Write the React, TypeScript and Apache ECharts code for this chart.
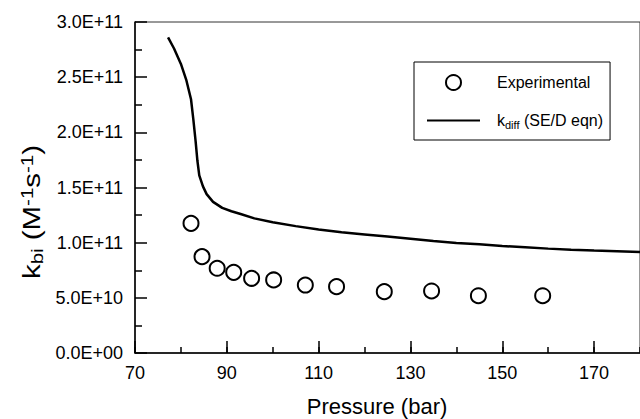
import React, { useEffect, useRef } from "react";
import * as echarts from "echarts";

// Experimental points
const expPressure = [82.2, 84.6, 87.9, 91.5, 95.4, 100.2, 107.1, 113.9, 124.3, 134.6, 144.8, 158.8];
const expK = [1.175e11, 0.873e11, 0.768e11, 0.731e11, 0.677e11, 0.662e11, 0.616e11, 0.601e11, 0.556e11, 0.562e11, 0.519e11, 0.519e11];

// k_diff (SE/D eqn) curve
const diffPressure = [77.2, 78.5, 80.0, 81.2, 82.2, 82.7, 83.2, 83.6, 84.0, 84.8, 85.6, 87.0, 89.0, 91.0, 93.0, 96.0, 100, 105, 110, 115, 120, 125, 130, 135, 140, 145, 150, 155, 160, 165, 170, 175, 180];
const diffK = [2.86e11, 2.76e11, 2.62e11, 2.47e11, 2.30e11, 2.12e11, 1.92e11, 1.74e11, 1.61e11, 1.51e11, 1.44e11, 1.37e11, 1.315e11, 1.285e11, 1.26e11, 1.22e11, 1.185e11, 1.15e11, 1.12e11, 1.095e11, 1.075e11, 1.055e11, 1.035e11, 1.015e11, 0.998e11, 0.985e11, 0.97e11, 0.958e11, 0.946e11, 0.936e11, 0.928e11, 0.922e11, 0.916e11];

const xMin = 70;
const xMax = 180;
const xMajor = 20;
const xMinor = 10;
const yMin = 0;
const yMax = 3e11;
const yStep = 0.5e11;

const FONT = "'Liberation Sans', Arial, Helvetica, sans-serif";

function fmtSci(v: number): string {
  if (v === 0) return "0.0E+00";
  const e = Math.floor(Math.log10(v) + 1e-9);
  const m = v / Math.pow(10, e);
  return m.toFixed(1) + "E+" + String(e).padStart(2, "0");
}

export default function App() {
  const ref = useRef<HTMLDivElement>(null);
  useEffect(() => {
    if (!ref.current) return;
    const chart = echarts.init(ref.current, null, { renderer: "svg" });
    const expData = expPressure.map((p, i) => [p, expK[i]]);
    const diffData = diffPressure.map((p, i) => [p, diffK[i]]);
    chart.setOption({
      animation: false,
      backgroundColor: "#fff",
      grid: {
        left: 135,
        top: 22,
        width: 507,
        height: 331,
        show: true,
        borderColor: "#333",
        borderWidth: 1,
        backgroundColor: "transparent",
      },
      xAxis: [
        {
          type: "value",
          position: "bottom",
          min: xMin,
          max: xMax,
          interval: xMajor,
          axisLine: { show: true, lineStyle: { color: "#000", width: 1.5 } },
          axisTick: { show: true, inside: true, length: 12, lineStyle: { color: "#000", width: 1.5 } },
          axisLabel: {
            showMaxLabel: false,
            color: "#000",
            fontSize: 18,
            fontFamily: FONT,
            margin: 11,
          },
          splitLine: { show: false },
        },
        {
          type: "value",
          position: "bottom",
          min: xMin,
          max: xMax,
          interval: xMinor,
          axisLine: { show: false },
          axisTick: { show: true, inside: true, length: 6, lineStyle: { color: "#000", width: 1.5 } },
          axisLabel: { show: false },
          splitLine: { show: false },
        },
      ],
      yAxis: {
        type: "value",
        min: yMin,
        max: yMax,
        interval: yStep,
        axisLine: { show: true, lineStyle: { color: "#000", width: 1.5 } },
        axisTick: { show: true, inside: true, length: 12, lineStyle: { color: "#000", width: 1.5 } },
        minorTick: { show: true, splitNumber: 2, length: 7, lineStyle: { color: "#000", width: 1.5 } },
        axisLabel: {
          color: "#000",
          fontSize: 18,
          fontFamily: FONT,
          margin: 12,
          formatter: (v: number) => fmtSci(v),
        },
        splitLine: { show: false },
      },
      legend: {
        orient: "vertical",
        left: 414,
        top: 62,
        padding: [12, 7, 10, 13],
        itemWidth: 53,
        itemHeight: 15,
        itemGap: 20,
        borderColor: "#000",
        borderWidth: 1,
        backgroundColor: "#fff",
        data: [
          { name: "Experimental" },
          {
            name: "kdiff",
            icon: "path://M0,0L53,0L53,2L0,2Z",
            itemStyle: { color: "#000", borderWidth: 0 },
          },
        ],
        formatter: (name: string) =>
          name === "kdiff"
            ? "{first|k}{sub|diff}{a| (SE/D eqn)}"
            : "{first|Experimental}",
        textStyle: {
          color: "#000",
          fontFamily: FONT,
          fontSize: 16,
          rich: {
            first: { fontSize: 16, fontFamily: FONT, color: "#000", lineHeight: 20, padding: [0, 0, 0, 12] },
            a: { fontSize: 16, fontFamily: FONT, color: "#000", lineHeight: 20 },
            sub: { fontSize: 11, fontFamily: FONT, color: "#000", lineHeight: 11, padding: [8, 0, 0, 0] },
          },
        },
      },
      series: [
        {
          name: "Experimental",
          type: "scatter",
          data: expData,
          symbol: "emptyCircle",
          symbolSize: 15,
          itemStyle: { color: "#000", borderColor: "#000", borderWidth: 1.5, opacity: 1 },
          z: 3,
        },
        {
          name: "kdiff",
          type: "line",
          data: diffData,
          symbol: "none",
          smooth: false,
          lineStyle: { color: "#000", width: 2.5 },
          itemStyle: { color: "#000" },
          z: 2,
        },
      ],
      graphic: [
        {
          type: "text",
          x: 377,
          y: 406,
          style: {
            text: "Pressure (bar)",
            fontSize: 22,
            fontFamily: FONT,
            fill: "#000",
            align: "center",
            verticalAlign: "middle",
          },
        },
        {
          type: "text",
          x: 32,
          y: 212,
          rotation: Math.PI / 2,
          scaleX: 1.28,
          style: {
            text: "{m|k}{sub|bi}{m| (M}{sup|-1}{m|s}{sup|-1}{m|)}",
            fontSize: 23,
            fontFamily: FONT,
            fill: "#000",
            align: "center",
            verticalAlign: "middle",
            rich: {
              m: { fontSize: 23, fontFamily: FONT, fill: "#000", lineHeight: 23 },
              sub: { fontSize: 16, fontFamily: FONT, fill: "#000", lineHeight: 16, padding: [10, 0, 0, 0] },
              sup: { fontSize: 16, fontFamily: FONT, fill: "#000", lineHeight: 16, padding: [0, 0, 10, 0] },
            },
          },
        },
      ],
    });
    return () => chart.dispose();
  }, []);
  return (
    <div
      ref={ref}
      style={{ position: "absolute", left: 0, top: 0, width: 640, height: 419 }}
    />
  );
}
